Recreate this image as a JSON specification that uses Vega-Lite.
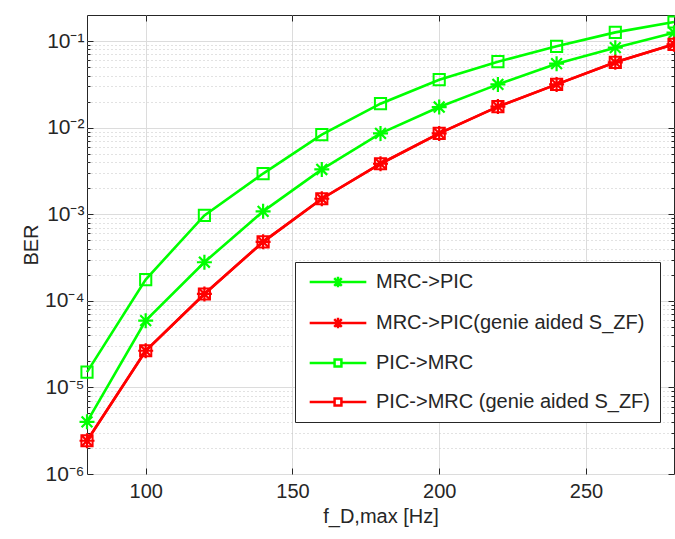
{
  "$schema": "https://vega.github.io/schema/vega-lite/v6.json",
  "width": 587,
  "height": 459,
  "autosize": {"type": "none"},
  "padding": {"left": 87, "top": 15, "right": 1, "bottom": 65},
  "background": "white",
  "config": {
    "font": "Liberation Sans",
    "view": {"stroke": "#262626", "strokeWidth": 1}
  },
  "data": {
    "values": [
      {"series": "MRC->PIC", "f": 80, "ber": 4.0e-6},
      {"series": "MRC->PIC", "f": 100, "ber": 5.9e-5},
      {"series": "MRC->PIC", "f": 120, "ber": 2.79e-4},
      {"series": "MRC->PIC", "f": 140, "ber": 1.08e-3},
      {"series": "MRC->PIC", "f": 160, "ber": 3.29e-3},
      {"series": "MRC->PIC", "f": 180, "ber": 8.58e-3},
      {"series": "MRC->PIC", "f": 200, "ber": 0.0173},
      {"series": "MRC->PIC", "f": 220, "ber": 0.0316},
      {"series": "MRC->PIC", "f": 240, "ber": 0.0548},
      {"series": "MRC->PIC", "f": 260, "ber": 0.0839},
      {"series": "MRC->PIC", "f": 280, "ber": 0.125},
      {"series": "MRC->PIC(genie aided S_ZF)", "f": 80, "ber": 2.42e-6},
      {"series": "MRC->PIC(genie aided S_ZF)", "f": 100, "ber": 2.65e-5},
      {"series": "MRC->PIC(genie aided S_ZF)", "f": 120, "ber": 1.2e-4},
      {"series": "MRC->PIC(genie aided S_ZF)", "f": 140, "ber": 4.8e-4},
      {"series": "MRC->PIC(genie aided S_ZF)", "f": 160, "ber": 1.51e-3},
      {"series": "MRC->PIC(genie aided S_ZF)", "f": 180, "ber": 3.83e-3},
      {"series": "MRC->PIC(genie aided S_ZF)", "f": 200, "ber": 8.58e-3},
      {"series": "MRC->PIC(genie aided S_ZF)", "f": 220, "ber": 0.0175},
      {"series": "MRC->PIC(genie aided S_ZF)", "f": 240, "ber": 0.0316},
      {"series": "MRC->PIC(genie aided S_ZF)", "f": 260, "ber": 0.0568},
      {"series": "MRC->PIC(genie aided S_ZF)", "f": 280, "ber": 0.0916},
      {"series": "PIC->MRC", "f": 80, "ber": 1.5e-5},
      {"series": "PIC->MRC", "f": 100, "ber": 1.76e-4},
      {"series": "PIC->MRC", "f": 120, "ber": 9.7e-4},
      {"series": "PIC->MRC", "f": 140, "ber": 2.95e-3},
      {"series": "PIC->MRC", "f": 160, "ber": 8.3e-3},
      {"series": "PIC->MRC", "f": 180, "ber": 0.0189},
      {"series": "PIC->MRC", "f": 200, "ber": 0.0358},
      {"series": "PIC->MRC", "f": 220, "ber": 0.0578},
      {"series": "PIC->MRC", "f": 240, "ber": 0.0869},
      {"series": "PIC->MRC", "f": 260, "ber": 0.126},
      {"series": "PIC->MRC", "f": 280, "ber": 0.166},
      {"series": "PIC->MRC (genie aided S_ZF)", "f": 80, "ber": 2.42e-6},
      {"series": "PIC->MRC (genie aided S_ZF)", "f": 100, "ber": 2.65e-5},
      {"series": "PIC->MRC (genie aided S_ZF)", "f": 120, "ber": 1.2e-4},
      {"series": "PIC->MRC (genie aided S_ZF)", "f": 140, "ber": 4.8e-4},
      {"series": "PIC->MRC (genie aided S_ZF)", "f": 160, "ber": 1.51e-3},
      {"series": "PIC->MRC (genie aided S_ZF)", "f": 180, "ber": 3.83e-3},
      {"series": "PIC->MRC (genie aided S_ZF)", "f": 200, "ber": 8.58e-3},
      {"series": "PIC->MRC (genie aided S_ZF)", "f": 220, "ber": 0.0175},
      {"series": "PIC->MRC (genie aided S_ZF)", "f": 240, "ber": 0.0316},
      {"series": "PIC->MRC (genie aided S_ZF)", "f": 260, "ber": 0.0568},
      {"series": "PIC->MRC (genie aided S_ZF)", "f": 280, "ber": 0.0916}
    ]
  },
  "layer": [
    {
      "mark": {"type": "line", "strokeWidth": 2.6},
      "encoding": {
        "x": {
          "field": "f", "type": "quantitative",
          "scale": {"domain": [80, 280], "nice": false, "zero": false},
          "axis": {
            "orient": "bottom",
            "values": [100, 150, 200, 250],
            "grid": true, "gridColor": "#dcdcdc", "gridWidth": 1,
            "domain": false,
            "tickSize": -6, "tickColor": "#262626", "tickWidth": 1,
            "labelFontSize": 20, "labelColor": "#262626", "labelPadding": 13,
            "title": "f_D,max [Hz]", "titleFontSize": 20, "titleFontWeight": "normal", "titleColor": "#262626", "titlePadding": 5
          }
        },
        "y": {
          "field": "ber", "type": "quantitative",
          "scale": {"type": "log", "domain": [1e-6, 0.2], "nice": false},
          "axis": {
            "orient": "left",
            "values": [1e-6,2e-6,3e-6,4e-6,5e-6,6e-6,7e-6,8e-6,9e-6,1e-5,2e-5,3e-5,4e-5,5e-5,6e-5,7e-5,8e-5,9e-5,1e-4,2e-4,3e-4,4e-4,5e-4,6e-4,7e-4,8e-4,9e-4,1e-3,2e-3,3e-3,4e-3,5e-3,6e-3,7e-3,8e-3,9e-3,1e-2,2e-2,3e-2,4e-2,5e-2,6e-2,7e-2,8e-2,9e-2,1e-1],
            "grid": true,
            "gridColor": {"condition": {"test": "abs(log(datum.value)/LN10 - round(log(datum.value)/LN10)) > 0.001", "value": "#c4c4c4"}, "value": "#dcdcdc"},
            "gridDash": {"condition": {"test": "abs(log(datum.value)/LN10 - round(log(datum.value)/LN10)) > 0.001", "value": [1, 3]}, "value": []},
            "domain": false,
            "tickSize": {"condition": {"test": "abs(log(datum.value)/LN10 - round(log(datum.value)/LN10)) > 0.001", "value": -3}, "value": -6},
            "tickColor": "#262626", "tickWidth": 1,
            "labelExpr": "abs(log(datum.value)/LN10 - round(log(datum.value)/LN10)) > 0.001 ? '' : ['10⁻⁶','10⁻⁵','10⁻⁴','10⁻³','10⁻²','10⁻¹'][round(log(datum.value)/LN10)+6]",
            "labelFontSize": 21, "labelColor": "#262626", "labelPadding": 9,
            "title": "BER", "titleFontSize": 20, "titleFontWeight": "normal", "titleColor": "#262626", "titlePadding": 3
          }
        },
        "color": {
          "field": "series", "type": "nominal",
          "scale": {
            "domain": ["MRC->PIC", "MRC->PIC(genie aided S_ZF)", "PIC->MRC", "PIC->MRC (genie aided S_ZF)"],
            "range": ["#00ff00", "#ff0000", "#00ff00", "#ff0000"]
          },
          "legend": {
            "title": null,
            "orient": "none",
            "legendX": 208,
            "legendY": 247,
            "padding": 10,
            "fillColor": "white",
            "strokeColor": "#262626",
            "labelFontSize": 20,
            "labelColor": "#262626",
            "labelLimit": 400,
            "symbolSize": 110,
            "symbolOffset": 23,
            "labelOffset": 28,
            "rowPadding": 19,
            "encode": {
              "symbols": {
                "update": {
                  "shape": {"signal": "indexof(datum.value, 'MRC->PIC') === 0 ? 'M-5.4,0H5.4M-1,0H1M0,-1V1M-0.72,-0.72L0.72,0.72M-0.72,0.72L0.72,-0.72' : 'M-5.4,0H-0.65M0.65,0H5.4M-0.65,-0.65H0.65V0.65H-0.65Z'"},
                  "fill": {"value": "transparent"},
                  "strokeWidth": {"value": 2.5}
                }
              }
            }
          }
        }
      }
    },
    {
      "transform": [{"filter": "indexof(datum.series, 'MRC->PIC') === 0"}],
      "mark": {"type": "point", "filled": false, "strokeWidth": 2.2, "opacity": 1,
        "shape": "M-1,0L1,0M0,-1L0,1M-0.72,-0.72L0.72,0.72M-0.72,0.72L0.72,-0.72", "size": 225},
      "encoding": {
        "x": {
          "field": "f", "type": "quantitative",
          "axis": {"orient": "top", "values": [100, 150, 200, 250], "labels": false, "grid": false, "domain": false, "tickSize": -6, "tickColor": "#262626", "title": null}
        },
        "y": {
          "field": "ber", "type": "quantitative",
          "axis": {
            "orient": "right",
            "values": [1e-6,2e-6,3e-6,4e-6,5e-6,6e-6,7e-6,8e-6,9e-6,1e-5,2e-5,3e-5,4e-5,5e-5,6e-5,7e-5,8e-5,9e-5,1e-4,2e-4,3e-4,4e-4,5e-4,6e-4,7e-4,8e-4,9e-4,1e-3,2e-3,3e-3,4e-3,5e-3,6e-3,7e-3,8e-3,9e-3,1e-2,2e-2,3e-2,4e-2,5e-2,6e-2,7e-2,8e-2,9e-2,1e-1],
            "labels": false, "grid": false, "domain": false,
            "tickSize": {"condition": {"test": "abs(log(datum.value)/LN10 - round(log(datum.value)/LN10)) > 0.001", "value": -3}, "value": -6},
            "tickColor": "#262626", "title": null
          }
        },
        "color": {"field": "series", "type": "nominal"}
      }
    },
    {
      "transform": [{"filter": "indexof(datum.series, 'PIC->MRC') === 0"}],
      "mark": {"type": "point", "filled": false, "strokeWidth": 2, "opacity": 1, "shape": "square", "size": 125},
      "encoding": {
        "x": {"field": "f", "type": "quantitative", "axis": null},
        "y": {"field": "ber", "type": "quantitative", "axis": null},
        "color": {"field": "series", "type": "nominal"}
      }
    }
  ],
  "resolve": {"axis": {"x": "independent", "y": "independent"}}
}
